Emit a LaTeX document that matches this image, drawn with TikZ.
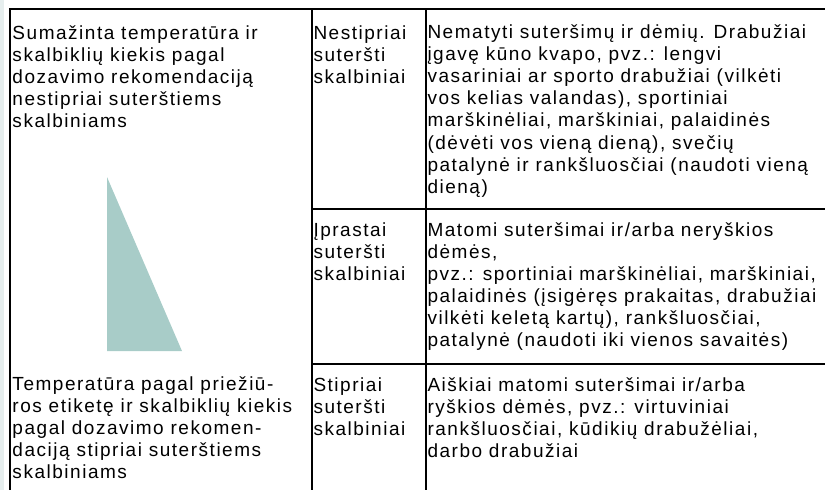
\documentclass[tikz,border=0pt]{standalone}
\usepackage{fontspec}
\setmainfont{Liberation Sans}[LetterSpace=8]
\definecolor{stripc}{HTML}{E6EEEE}
\definecolor{trifill}{HTML}{A8CCC8}
\newcommand{\tcell}[1]{\begin{tabular}[t]{@{}l@{}}#1\end{tabular}}
\begin{document}
\begin{tikzpicture}[x=1pt,y=-1pt,
  rule/.style={line width=2pt,black},
  txt/.style={anchor=base west,inner sep=0pt,outer sep=0pt,font=\fontsize{19pt}{22.1pt}\selectfont}]
\useasboundingbox (0,0) rectangle (825,490);
\fill[stripc] (0,0) rectangle (4,490);
% table rules
\coordinate (tl) at (10,9);
\coordinate (tr) at (825,9);
\coordinate (bl) at (10,490);
\coordinate (c1t) at (312,9);
\coordinate (c1b) at (312,490);
\coordinate (c2t) at (425.5,9);
\coordinate (c2b) at (425.5,490);
\coordinate (r1l) at (312,208.5);
\coordinate (r1r) at (825,208.5);
\coordinate (r2l) at (312,364);
\coordinate (r2r) at (825,364);
\draw[rule] (tl) -- (tr);
\draw[rule] ([yshift=1pt]tl) -- (bl);
\draw[rule] (c1t) -- (c1b);
\draw[rule] (c2t) -- (c2b);
\draw[rule] (r1l) -- (r1r);
\draw[rule] (r2l) -- (r2r);
% triangle
\fill[trifill] (107,177) -- (182,351) -- (107,351) -- cycle;
% left column
\node[txt] (lt) at (12.5,39.5) {\tcell{Sumažinta temperatūra ir\\skalbiklių kiekis pagal\\dozavimo rekomendaciją\\nestipriai suterštiems\\skalbiniams}};
\node[txt] (lb) at (12.5,390.5) {\tcell{Temperatūra pagal priežiū-\\ros etiketę ir skalbiklių kiekis\\pagal dozavimo rekomen-\\daciją stipriai suterštiems\\skalbiniams}};
% middle column
\node[txt] (m1) at (313.5,39.3) {\tcell{Nestipriai\\suteršti\\skalbiniai}};
\node[txt] (m2) at (313.5,236) {\tcell{Įprastai\\suteršti\\skalbiniai}};
\node[txt] (m3) at (313.5,391) {\tcell{Stipriai\\suteršti\\skalbiniai}};
% right column
\node[txt] (d1) at (427.5,38.5) {\tcell{Nematyti suteršimų ir dėmių. Drabužiai\\įgavę kūno kvapo, pvz.: lengvi\\vasariniai ar sporto drabužiai (vilkėti\\vos kelias valandas), sportiniai\\marškinėliai, marškiniai, palaidinės\\(dėvėti vos vieną dieną), svečių\\patalynė ir rankšluosčiai (naudoti vieną\\dieną)}};
\node[txt] (d2) at (427.5,236) {\tcell{Matomi suteršimai ir/arba neryškios\\dėmės,\\pvz.: sportiniai marškinėliai, marškiniai,\\palaidinės (įsigėręs prakaitas, drabužiai\\vilkėti keletą kartų), rankšluosčiai,\\patalynė (naudoti iki vienos savaitės)}};
\node[txt] (d3) at (427.5,391) {\tcell{Aiškiai matomi suteršimai ir/arba\\ryškios dėmės, pvz.: virtuviniai\\rankšluosčiai, kūdikių drabužėliai,\\darbo drabužiai}};
\end{tikzpicture}
\end{document}
